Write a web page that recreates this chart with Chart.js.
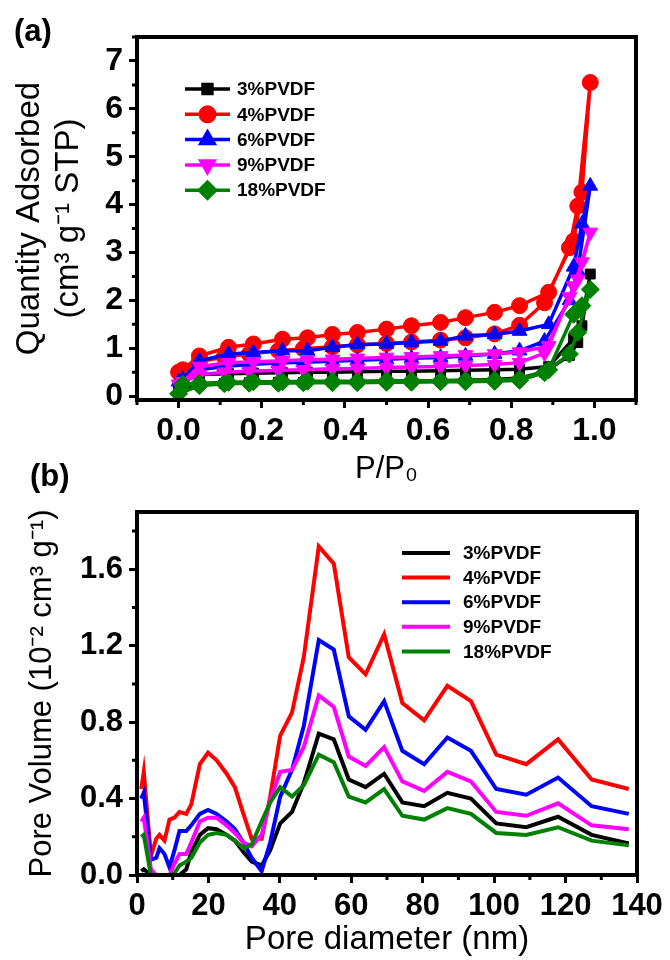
<!DOCTYPE html>
<html>
<head>
<meta charset="utf-8">
<script src="https://cdn.jsdelivr.net/npm/chart.js@4.4.1/dist/chart.umd.min.js"></script>
<style>
  html, body { margin: 0; padding: 0; background: #fff; }
  body { width: 670px; height: 960px; position: relative; overflow: hidden; }
  .panel { position: absolute; left: 0; width: 670px; }
  #wrapA { top: 0; height: 490px; }
  #wrapB { top: 450px; height: 510px; }
</style>
</head>
<body>
<div class="panel" id="wrapA"><canvas id="isoChart"></canvas></div>
<div class="panel" id="wrapB"><canvas id="poreChart"></canvas></div>
<script>
const FONT = '"Liberation Sans", Arial, sans-serif';

const samples = ['3%PVDF', '4%PVDF', '6%PVDF', '9%PVDF', '18%PVDF'];
const colors = ['#000000', '#ff0000', '#0000ff', '#ff00ff', '#008000'];
const markers = ['rect', 'circle', 'triangle', 'triangle', 'rectRot'];
const markerRot = [0, 0, 0, 180, 0];
const markerSize = [7, 8, 8.5, 8.5, 9];

// (a) N2 isotherms: adsorption branch then desorption branch
const adsX = [0.0, 0.05, 0.11, 0.17, 0.24, 0.30, 0.37, 0.43, 0.50, 0.56, 0.63, 0.69, 0.76, 0.82, 0.88, 0.94, 0.96, 0.99];
const desX = [0.97, 0.95, 0.89, 0.82, 0.76, 0.69, 0.63, 0.56, 0.50, 0.43, 0.37, 0.31, 0.25, 0.18, 0.12, 0.05, 0.01];

const ads3 = [0.12, 0.25, 0.27, 0.28, 0.29, 0.29, 0.30, 0.30, 0.31, 0.31, 0.32, 0.33, 0.35, 0.38, 0.50, 0.85, 1.12, 2.55];
const des3 = [1.47, 1.20, 0.62, 0.56, 0.55, 0.54, 0.53, 0.52, 0.52, 0.51, 0.50, 0.50, 0.49, 0.48, 0.47, 0.45, 0.50];
const ads4 = [0.50, 0.72, 0.82, 0.88, 0.95, 0.99, 1.03, 1.07, 1.10, 1.13, 1.17, 1.22, 1.30, 1.48, 1.95, 3.10, 3.97, 6.55];
const des4 = [4.26, 3.24, 2.17, 1.89, 1.75, 1.64, 1.54, 1.47, 1.40, 1.33, 1.29, 1.22, 1.19, 1.09, 1.02, 0.84, 0.55];
const ads6 = [0.30, 0.55, 0.62, 0.66, 0.69, 0.71, 0.73, 0.75, 0.77, 0.79, 0.81, 0.84, 0.88, 0.95, 1.15, 2.00, 2.62, 4.39];
const des6 = [3.60, 2.70, 1.50, 1.36, 1.29, 1.26, 1.15, 1.12, 1.09, 1.08, 1.02, 0.95, 0.95, 0.91, 0.88, 0.74, 0.35];
const ads9 = [0.25, 0.45, 0.50, 0.52, 0.54, 0.55, 0.57, 0.58, 0.60, 0.61, 0.62, 0.64, 0.66, 0.70, 0.90, 2.07, 2.44, 3.42];
const des9 = [2.80, 2.30, 1.05, 0.92, 0.88, 0.86, 0.84, 0.82, 0.81, 0.79, 0.77, 0.76, 0.74, 0.72, 0.70, 0.62, 0.30];
const ads18 = [0.05, 0.22, 0.26, 0.27, 0.27, 0.28, 0.28, 0.28, 0.29, 0.29, 0.30, 0.30, 0.31, 0.33, 0.49, 0.88, 1.33, 2.23];
const des18 = [1.89, 1.71, 0.55, 0.36, 0.34, 0.33, 0.32, 0.32, 0.32, 0.31, 0.31, 0.31, 0.30, 0.30, 0.29, 0.27, 0.25];

const isoAds = [ads3, ads4, ads6, ads9, ads18];
const isoDes = [des3, des4, des6, des9, des18];

const isoXTicks = [0, 0.2, 0.4, 0.6, 0.8, 1.0];
const isoXMinor = [-0.1, 0.1, 0.3, 0.5, 0.7, 0.9, 1.1];
const isoYTicks = [0, 1, 2, 3, 4, 5, 6, 7];
const isoYMinor = [0.5, 1.5, 2.5, 3.5, 4.5, 5.5, 6.5, 7.5];

// (b) BJH pore size distribution
const poreX = [1.2, 1.9, 3.9, 5.4, 6.3, 7.7, 9.1, 10.5, 11.9, 13.8, 15.2, 17.6, 19.9, 22.3, 25.1, 27.4, 29.8, 32.1, 34.9, 37.3,
  40.1, 43.4, 46.7, 50.9, 55.1, 59.3, 64.0, 69.2, 74.3, 80.4, 86.9, 93.5, 100.6, 109.0, 117.9, 127.3, 137.7];
const pv3 = [0.02, 0.03, 0, 0, 0, 0, 0, 0, 0, 0.03, 0.12, 0.21, 0.245, 0.24, 0.21, 0.18, 0.12, 0.07, 0.05, 0.13,
  0.27, 0.33, 0.48, 0.74, 0.71, 0.50, 0.46, 0.53, 0.38, 0.36, 0.43, 0.40, 0.27, 0.25, 0.305, 0.21, 0.165];
const pv4 = [0.45, 0.54, 0.10, 0.19, 0.21, 0.18, 0.29, 0.30, 0.33, 0.32, 0.37, 0.58, 0.64, 0.60, 0.53, 0.46, 0.32, 0.19, 0.19, 0.41,
  0.73, 0.85, 1.14, 1.72, 1.63, 1.14, 1.05, 1.26, 0.90, 0.81, 0.99, 0.91, 0.63, 0.58, 0.71, 0.50, 0.45];
const pv6 = [0.40, 0.43, 0.08, 0.09, 0.14, 0.11, 0.04, 0.13, 0.23, 0.23, 0.26, 0.32, 0.34, 0.32, 0.28, 0.24, 0.17, 0.09, 0.02, 0.17,
  0.41, 0.55, 0.78, 1.23, 1.18, 0.83, 0.76, 0.91, 0.65, 0.58, 0.72, 0.65, 0.45, 0.42, 0.51, 0.36, 0.32];
const pv9 = [0.28, 0.30, 0.03, 0, 0, 0, 0, 0.06, 0.11, 0.11, 0.17, 0.28, 0.30, 0.30, 0.26, 0.22, 0.17, 0.15, 0.21, 0.39,
  0.54, 0.55, 0.67, 0.94, 0.88, 0.62, 0.57, 0.67, 0.49, 0.44, 0.54, 0.49, 0.33, 0.31, 0.375, 0.26, 0.24];
const pv18 = [0.20, 0.21, 0, 0, 0, 0, 0, 0.01, 0.05, 0.07, 0.09, 0.17, 0.21, 0.22, 0.21, 0.18, 0.14, 0.16, 0.28, 0.38,
  0.46, 0.41, 0.47, 0.63, 0.59, 0.41, 0.38, 0.45, 0.31, 0.29, 0.35, 0.32, 0.22, 0.21, 0.25, 0.18, 0.155];
const poreSeries = [pv3, pv4, pv6, pv9, pv18];

const poreXTicks = [0, 20, 40, 60, 80, 100, 120, 140];
const poreXMinor = [10, 30, 50, 70, 90, 110, 130];
const poreYTicks = [0, 0.4, 0.8, 1.2, 1.6];
const poreYMinor = [0.2, 0.6, 1.0, 1.4, 1.8];

// frame box, minor ticks and the panel tag
const framePlugin = {
  id: 'frame',
  afterDraw(chart, args, o) {
    const {ctx, chartArea: a} = chart;
    const x = chart.scales.x, y = chart.scales.y;
    ctx.save();
    ctx.strokeStyle = '#000';
    ctx.lineWidth = 3;
    ctx.beginPath();
    o.minorX.forEach(v => { const px = x.getPixelForValue(v); ctx.moveTo(px, a.bottom); ctx.lineTo(px, a.bottom + 5); });
    o.minorY.forEach(v => { const py = y.getPixelForValue(v); ctx.moveTo(a.left, py); ctx.lineTo(a.left - 5, py); });
    ctx.stroke();
    ctx.lineWidth = 4;
    ctx.strokeRect(a.left, a.top, a.right - a.left, a.bottom - a.top);
    ctx.fillStyle = '#000';
    ctx.font = 'bold 31px ' + FONT;
    ctx.textBaseline = 'alphabetic';
    ctx.fillText(o.tag, o.tagX, o.tagY);
    ctx.restore();
  }
};

function legendMarker(ctx, ds, cx, cy) {
  const r = ds.pointRadius * 0.9;
  if (Chart.helpers && Chart.helpers.drawPoint) {
    Chart.helpers.drawPoint(ctx, {pointStyle: ds.pointStyle, rotation: ds.pointRotation || 0, radius: r, borderWidth: 1}, cx, cy);
  } else {
    ctx.beginPath(); ctx.arc(cx, cy, r, 0, Math.PI * 2); ctx.fill();
  }
}

const boxLegend = {
  id: 'boxLegend',
  afterDraw(chart, args, o) {
    const ctx = chart.ctx;
    ctx.save();
    ctx.font = 'bold ' + o.fontSize + 'px ' + FONT;
    ctx.textBaseline = 'middle';
    chart.data.datasets.forEach((ds, i) => {
      const yy = o.y + i * o.rowGap;
      ctx.strokeStyle = ds.borderColor;
      ctx.fillStyle = ds.borderColor;
      ctx.lineWidth = ds.borderWidth;
      ctx.beginPath(); ctx.moveTo(o.x, yy); ctx.lineTo(o.x + o.lineLen, yy); ctx.stroke();
      if (o.markers) legendMarker(ctx, ds, o.x + o.lineLen / 2, yy);
      ctx.fillStyle = '#000';
      ctx.fillText(ds.label, o.textX, yy + 1);
    });
    ctx.restore();
  }
};

function axisGrid() {
  return { display: true, drawOnChartArea: false, drawTicks: true, tickLength: 8, tickWidth: 3, tickColor: '#000' };
}

function isoPoints(i) {
  const pts = adsX.map((x, k) => ({x: x, y: isoAds[i][k]}));
  return pts.concat(desX.map((x, k) => ({x: x, y: isoDes[i][k]})));
}

new Chart(document.getElementById('isoChart'), {
  type: 'scatter',
  data: {
    datasets: samples.map((name, i) => ({
      label: name,
      data: isoPoints(i),
      showLine: true,
      borderColor: colors[i],
      backgroundColor: colors[i],
      pointBackgroundColor: colors[i],
      pointBorderColor: colors[i],
      borderWidth: 3.5,
      pointStyle: markers[i],
      pointRotation: markerRot[i],
      pointRadius: markerSize[i],
      pointBorderWidth: 1,
      order: 5 - i
    }))
  },
  options: {
    responsive: true,
    maintainAspectRatio: false,
    animation: false,
    layout: { padding: { left: 0, top: 37, right: 34, bottom: 0 } },
    plugins: {
      legend: { display: false },
      tooltip: { enabled: false },
      frame: { minorX: isoXMinor, minorY: isoYMinor, tag: '(a)', tagX: 14, tagY: 41 },
      boxLegend: { x: 185, y: 89, rowGap: 25.3, lineLen: 45, textX: 237, fontSize: 19, markers: true }
    },
    scales: {
      x: {
        type: 'linear', min: -0.1, max: 1.1,
        afterBuildTicks: s => { s.ticks = isoXTicks.map(v => ({value: v})); },
        afterFit: s => { s.height = 90; },
        ticks: { color: '#000', padding: 4, maxRotation: 0, font: { family: FONT, size: 32, weight: 'bold' }, callback: v => Number(v).toFixed(1) },
        grid: axisGrid(),
        border: { display: false },
        title: { display: true, text: 'P/P₀', color: '#000', font: { family: FONT, size: 31 }, padding: { top: 0, bottom: 2 } }
      },
      y: {
        type: 'linear', min: -0.08, max: 7.5,
        afterBuildTicks: s => { s.ticks = isoYTicks.map(v => ({value: v})); },
        afterFit: s => { s.width = 137; },
        ticks: { color: '#000', padding: 6, font: { family: FONT, size: 32, weight: 'bold' }, callback: v => String(v) },
        grid: axisGrid(),
        border: { display: false },
        title: { display: true, text: ['Quantity Adsorbed', '(cm³ g⁻¹ STP)'], color: '#000', font: { family: FONT, size: 33 }, padding: { top: 10, bottom: 0 } }
      }
    }
  },
  plugins: [framePlugin, boxLegend]
});

new Chart(document.getElementById('poreChart'), {
  type: 'scatter',
  data: {
    datasets: samples.map((name, i) => ({
      label: name,
      data: poreX.map((x, k) => ({x: x, y: poreSeries[i][k]})),
      showLine: true,
      borderColor: colors[i],
      backgroundColor: colors[i],
      borderWidth: 4,
      pointRadius: 0,
      order: 5 - i
    }))
  },
  options: {
    responsive: true,
    maintainAspectRatio: false,
    animation: false,
    layout: { padding: { left: 0, top: 62, right: 33, bottom: 0 } },
    plugins: {
      legend: { display: false },
      tooltip: { enabled: false },
      frame: { minorX: poreXMinor, minorY: poreYMinor, tag: '(b)', tagX: 30, tagY: 36 },
      boxLegend: { x: 402, y: 103, rowGap: 24.6, lineLen: 48, textX: 463, fontSize: 19, markers: false }
    },
    scales: {
      x: {
        type: 'linear', min: 0, max: 140,
        afterBuildTicks: s => { s.ticks = poreXTicks.map(v => ({value: v})); },
        afterFit: s => { s.height = 85; },
        ticks: { color: '#000', padding: 5, maxRotation: 0, font: { family: FONT, size: 31, weight: 'bold' }, callback: v => String(v) },
        grid: axisGrid(),
        border: { display: false },
        title: { display: true, text: 'Pore diameter (nm)', color: '#000', font: { family: FONT, size: 33 }, padding: { top: 0, bottom: 0 } }
      },
      y: {
        type: 'linear', min: 0, max: 1.9,
        afterBuildTicks: s => { s.ticks = poreYTicks.map(v => ({value: v})); },
        afterFit: s => { s.width = 137; },
        ticks: { color: '#000', padding: 6, font: { family: FONT, size: 31, weight: 'bold' }, callback: v => Number(v).toFixed(1) },
        grid: axisGrid(),
        border: { display: false },
        title: { display: true, text: 'Pore Volume (10⁻² cm³ g⁻¹)', color: '#000', font: { family: FONT, size: 31 }, padding: { top: 24, bottom: 0 } }
      }
    }
  },
  plugins: [framePlugin, boxLegend]
});
</script>
</body>
</html>
